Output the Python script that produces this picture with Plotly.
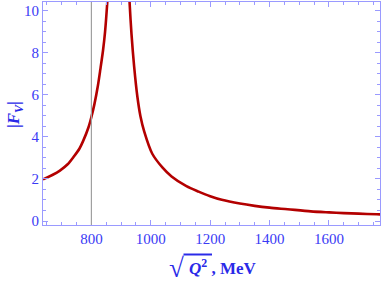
import plotly.graph_objects as go

# Data (sqrt(Q^2) in MeV, |F_V|)
x_left = [637, 670, 694, 720, 739, 760, 772, 790, 800, 810, 822, 830, 839, 846, 853, 858]
y_left = [1.98, 2.2, 2.4, 2.7, 3.03, 3.45, 3.8, 4.45, 4.95, 5.55, 6.45, 7.2, 8.1, 9.0, 10.3, 11.5]
x_right = [925, 929, 935, 944, 955, 965, 978, 1005, 1039, 1070, 1120, 1161, 1200, 1239,
           1300, 1350, 1400, 1461, 1539, 1600, 1650, 1700, 1761, 1775]
y_right = [11.5, 10.3, 8.9, 7.35, 5.9, 5.0, 4.25, 3.2, 2.55, 2.12, 1.66, 1.40, 1.18, 1.01,
           0.83, 0.72, 0.635, 0.56, 0.46, 0.41, 0.375, 0.35, 0.32, 0.315]
x_ticks = [800, 1000, 1200, 1400, 1600]
y_ticks = [0, 2, 4, 6, 8, 10]
vline_x = 800

red = "#b30000"
lab = "#3a3af5"
title_col = "#2a2ae8"
frame = "#9a9aff"
font_serif = "Liberation Serif"

W, H = 382, 282
L, R, T, B = 43, 2, 2, 57
pw, ph = W - L - R, H - T - B
def px(x):
    return (x - L) / pw
def py(y):
    return (H - B - y) / ph

fig = go.Figure()
fig.add_trace(go.Scatter(x=x_left + [None] + x_right, y=y_left + [None] + y_right,
                         mode="lines", line=dict(color=red, width=2.6, shape="spline", smoothing=0.8),
                         connectgaps=False, showlegend=False, hoverinfo="skip"))
fig.add_shape(type="line", xref="x", yref="paper", x0=vline_x, x1=vline_x, y0=0, y1=1,
              line=dict(color="#a0a0a0", width=1.2))

axis_common = dict(showgrid=False, zeroline=False, showline=True, linecolor=frame, linewidth=1,
                   mirror="allticks", ticks="inside", tickcolor=frame, ticklen=5,
                   tickfont=dict(family=font_serif, size=15, color=lab))
fig.update_xaxes(range=[637, 1772], tickvals=x_ticks,
                 minor=dict(ticks="inside", dtick=50, tick0=600, ticklen=3, tickcolor=frame),
                 **axis_common)
fig.update_yaxes(range=[-0.19, 10.42], tickvals=y_ticks,
                 minor=dict(ticks="inside", dtick=0.5, tick0=0, ticklen=3, tickcolor=frame),
                 **axis_common)

# x-axis title: radical sign + overline + text
fig.add_annotation(xref="paper", yref="paper", x=px(186), y=py(268), xanchor="right", yanchor="middle",
                   text="<b>√</b>", showarrow=False,
                   font=dict(family=font_serif, size=27, color=title_col))
fig.add_shape(type="line", xref="paper", yref="paper", x0=px(183.5), x1=px(212), y0=py(254.5), y1=py(254.5),
              line=dict(color=title_col, width=2))
fig.add_annotation(xref="paper", yref="paper", x=px(187), y=py(267), xanchor="left", yanchor="middle",
                   text="<b><i>Q</i><sup>2</sup>&nbsp;, MeV</b>", showarrow=False,
                   font=dict(family=font_serif, size=17, color=title_col))
fig.add_annotation(xref="paper", x=px(15), yref="paper", y=py(115), textangle=-90,
                   xanchor="center", yanchor="middle",
                   text="<b>|<i>F</i><sub><i>V</i></sub>|</b>", showarrow=False,
                   font=dict(family=font_serif, size=17, color=title_col))

fig.update_layout(width=W, height=H, margin=dict(l=L, r=R, t=T, b=B),
                  plot_bgcolor="white", paper_bgcolor="white", hovermode=False)
fig.write_html("out.html", config={"displayModeBar": False},
               post_script="document.body.style.margin='0';")
